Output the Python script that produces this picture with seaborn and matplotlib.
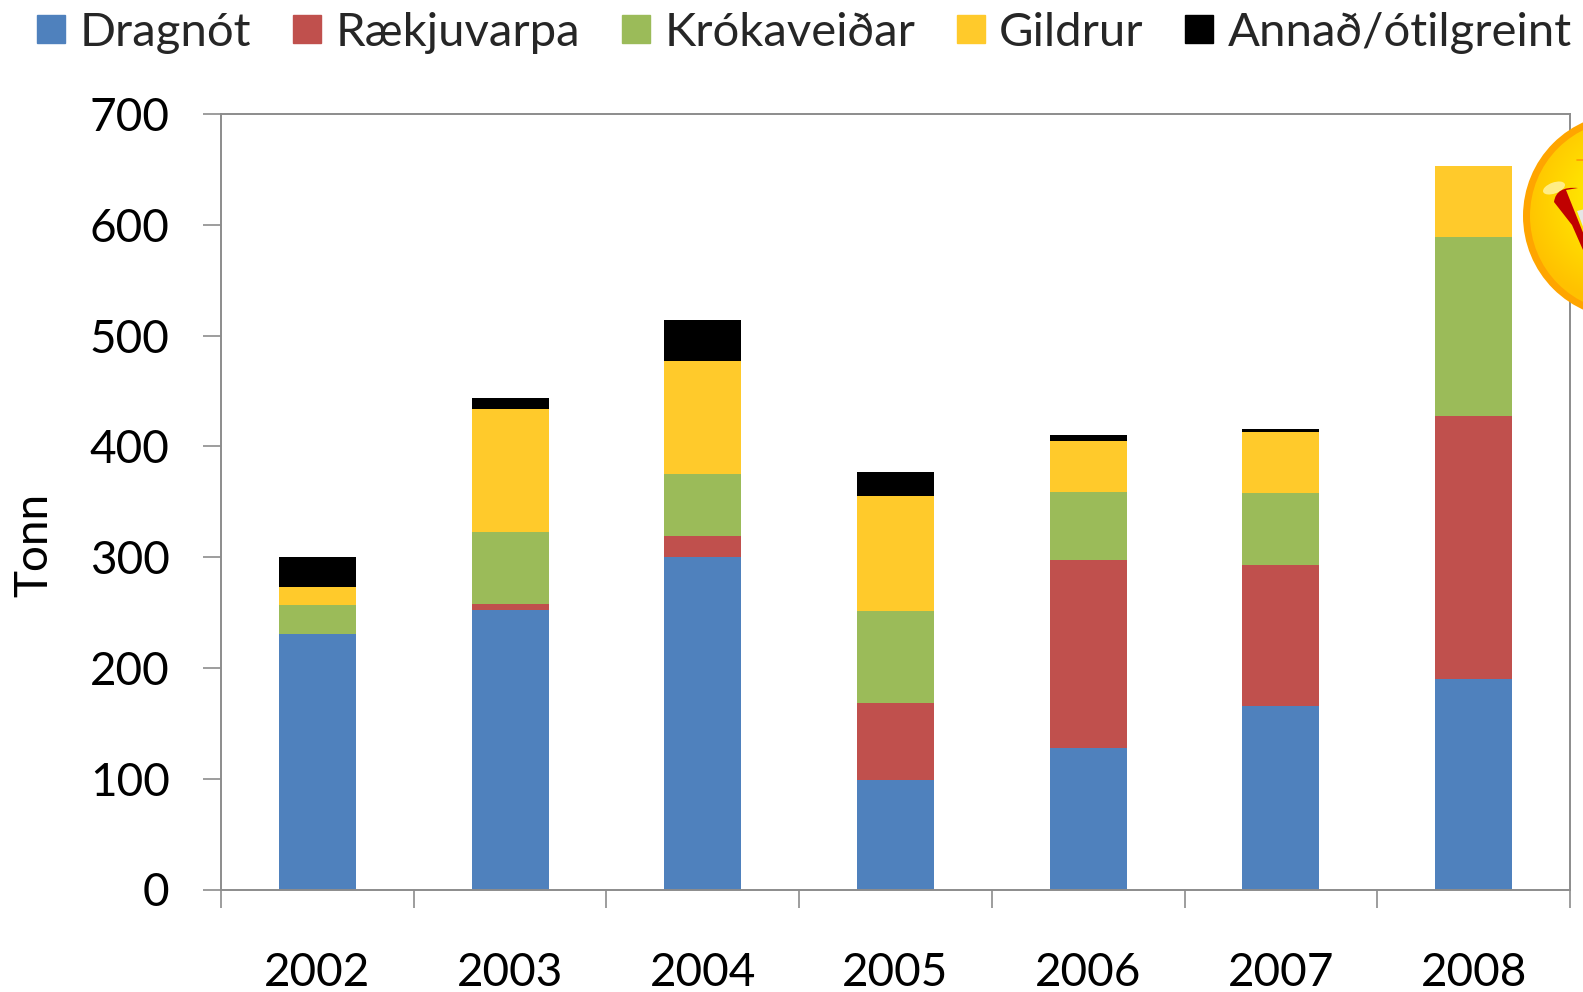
import numpy as np
import pandas as pd
import matplotlib
matplotlib.use("Agg")
import matplotlib.pyplot as plt
from matplotlib.patches import Circle, Ellipse, PathPatch, Polygon
from matplotlib.path import Path
from matplotlib.lines import Line2D
import seaborn as sns

years = ["2002", "2003", "2004", "2005", "2006", "2007", "2008"]
dragnot = [231, 252, 300, 99, 128, 166, 190]
raekjuvarpa = [0, 6, 19, 69, 169, 127, 237]
krokaveidar = [26, 65, 56, 83, 62, 65, 162]
gildrur = [16, 111, 102, 104, 46, 55, 64]
annad = [27, 10, 37, 22, 5, 3, 0]

series = ["Dragnót", "Rækjuvarpa", "Krókaveiðar", "Gildrur", "Annað/ótilgreint"]
colors = ["#4F81BD", "#C0504D", "#9BBB59", "#FFCA2B", "#000000"]

sns.set_theme(style="white")
plt.rcParams["font.family"] = ["Lato", "DejaVu Sans"]

W, H = 1583, 992
GREY = "#8C8C8C"

fig = plt.figure(figsize=(W / 100, H / 100), dpi=100)
ax = fig.add_axes([221 / W, 1 - 889.5 / H, (1570 - 221) / W, (889.5 - 114) / H])

df = pd.DataFrame({"year": years, "Dragnót": dragnot, "Rækjuvarpa": raekjuvarpa,
                   "Krókaveiðar": krokaveidar, "Gildrur": gildrur, "Annað/ótilgreint": annad})

# stack the series one by one
bottom = np.zeros(len(years))
for name, col in zip(series, colors):
    sns.barplot(data=df, x="year", y=name, color=col, saturation=1, width=0.4,
                bottom=bottom, ax=ax, linewidth=0)
    bottom = bottom + df[name].values

ax.set_xlim(-0.5, 6.5)
ax.set_ylim(0, 700)
ax.set_xlabel("")
ax.set_ylabel("Tonn", fontsize=33, color="black")
ax.yaxis.set_label_coords(-0.123, 0.444)
ax.set_yticks(range(0, 701, 100))
ax.tick_params(axis="y", labelsize=33, length=13, width=1.2, color=GREY, pad=24,
               left=True, labelcolor="black")
# ticks sit between the years, labels centred under the bars
ax.set_xticks(np.arange(-0.5, 7, 1))
ax.set_xticklabels([])
ax.set_xticks(range(7), labels=years, minor=True)
ax.tick_params(axis="x", which="major", length=13, width=1.2, color=GREY, bottom=True)
ax.tick_params(axis="x", which="minor", length=0, labelsize=33, pad=45, labelcolor="black")
for s in ax.spines.values():
    s.set_color(GREY)
    s.set_linewidth(1.4)

handles = [Line2D([], [], marker="s", ls="", color=c, markersize=20) for c in colors]
fig.legend(handles, series, loc="upper left", bbox_to_anchor=(36 / W, 1 - 12 / H), ncol=5,
           frameon=False, fontsize=34, handlelength=0.65, handletextpad=0.28,
           columnspacing=0.85, borderaxespad=0, borderpad=0)

# smiley in the top right corner, in pixel coordinates
ov = fig.add_axes([0, 0, 1, 1], facecolor="none")
ov.axis("off")
cx, cy, r = 1626, 216, 103
ov.add_patch(Circle((cx, cy), r, color="#FFA500", lw=0))
yy, xx = np.mgrid[cy - r:cy + r:300j, cx - r:cx + r:300j]
dist = np.hypot(xx - cx, yy - (cy - 15)) / r
shade = np.clip(dist, 0, 1)[..., None]
rgb = (1 - shade) * np.array([1.0, 1.0, 0.0]) + shade * np.array([1.0, 0.76, 0.0])
im = ov.imshow(rgb, extent=(cx - r, cx + r, cy + r, cy - r), aspect="auto", zorder=2)
im.set_clip_path(Circle((cx, cy), r - 7, transform=ov.transData))
ov.set_xlim(0, W)
ov.set_ylim(H, 0)
ov.add_patch(Ellipse((1554, 188), 23, 11, angle=-20, color="#FFF3A0", alpha=0.85, lw=0, zorder=3))
mouth = Path([(1554, 202), (1556, 186), (1578, 188), (1566, 190), (1586, 240),
              (1590, 250), (1583, 250), (1572, 225), (1554, 202)],
             [Path.MOVETO, Path.CURVE3, Path.CURVE3, Path.LINETO, Path.LINETO,
              Path.LINETO, Path.LINETO, Path.LINETO, Path.CLOSEPOLY])
ov.add_patch(PathPatch(mouth, fc="#C00000", ec="none", zorder=4))
ov.add_patch(Polygon([(1577, 211), (1585, 209), (1585, 232)], fc="#E6E6E6", ec="none", zorder=5))
ov.plot([1577, 1583], [160, 160], color="#FF9A00", lw=1.2, zorder=4)

fig.savefig("out.png", dpi=100)
